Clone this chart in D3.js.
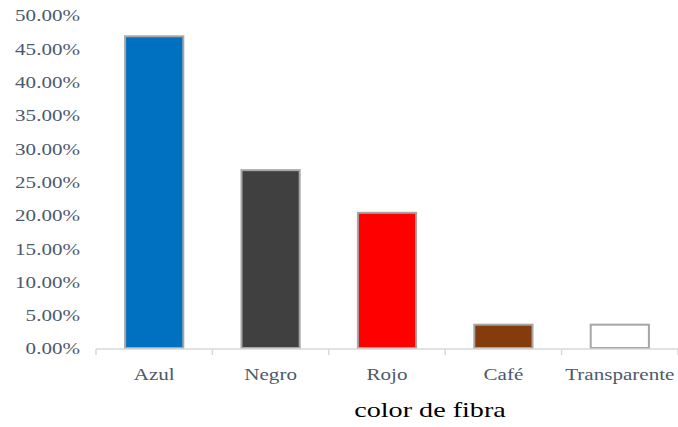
<!DOCTYPE html>
<html>
<head>
<meta charset="utf-8">
<script src="https://cdn.jsdelivr.net/npm/d3@7"></script>
<style>
  body { margin: 0; background: #fff; }
  svg text { font-family: "Liberation Serif", "Times New Roman", serif; }
</style>
</head>
<body>
<svg id="chart"></svg>
<script>
const categories = ["Azul", "Negro", "Rojo", "Café", "Transparente"];
const values = [0.468, 0.267, 0.203, 0.035, 0.035];
const barColors = ["#0070c0", "#404040", "#ff0000", "#843c0c", "#ffffff"];
const yTicks = [0, 0.05, 0.1, 0.15, 0.2, 0.25, 0.3, 0.35, 0.4, 0.45, 0.5];
const xTitle = "color de fibra";

const width = 678, height = 427;
const margin = { top: 15, right: 0, bottom: 79, left: 96 };
const stretch = 1.24; // text in the reference is slightly widened

const svg = d3.select("#chart").attr("width", width).attr("height", height);

const x = d3.scaleBand()
  .domain(categories)
  .range([margin.left, width - margin.right])
  .paddingInner(0.5)
  .paddingOuter(0.25);

const y = d3.scaleLinear()
  .domain([0, 0.5])
  .range([height - margin.bottom, margin.top]);

// bars
svg.append("g")
  .selectAll("rect")
  .data(categories)
  .join("rect")
  .attr("x", d => x(d))
  .attr("y", (d, i) => y(values[i]))
  .attr("width", x.bandwidth())
  .attr("height", (d, i) => y(0) - y(values[i]))
  .attr("fill", (d, i) => barColors[i])
  .attr("stroke", "#a6a6a6")
  .attr("stroke-width", 2);

// y axis labels (no line)
const yAxis = svg.append("g")
  .attr("transform", `translate(${margin.left - 16},0)`)
  .call(d3.axisLeft(y).tickValues(yTicks).tickSize(0).tickFormat(d3.format(".2%")));
yAxis.select(".domain").remove();
yAxis.selectAll("text")
  .attr("font-family", null)
  .attr("font-size", 17)
  .attr("fill", "#4d5a6c")
  .attr("x", 0)
  .attr("dy", "0.35em")
  .attr("transform", `scale(${stretch},1)`);

// x axis: baseline plus tick marks at band boundaries
const x0 = margin.left, x1 = width - margin.right;
const base = y(0);
svg.append("line")
  .attr("x1", x0).attr("x2", x1)
  .attr("y1", base + 1).attr("y2", base + 1)
  .attr("stroke", "#d9d9d9").attr("stroke-width", 1.5);
const step = x.step();
const bounds = d3.range(categories.length + 1).map(i => x0 + i * step);
svg.append("g")
  .selectAll("line")
  .data(bounds)
  .join("line")
  .attr("x1", d => d).attr("x2", d => d)
  .attr("y1", base + 1).attr("y2", base + 7)
  .attr("stroke", "#d9d9d9").attr("stroke-width", 1.5);

svg.append("g")
  .selectAll("text")
  .data(categories)
  .join("text")
  .attr("transform", d => `translate(${x(d) + x.bandwidth() / 2},${base + 32}) scale(${stretch},1)`)
  .attr("text-anchor", "middle")
  .attr("font-size", 17)
  .attr("fill", "#4d5a6c")
  .text(d => d);

svg.append("text")
  .attr("transform", `translate(430,417) scale(1.28,1)`)
  .attr("text-anchor", "middle")
  .attr("font-size", 22)
  .attr("fill", "#000")
  .text(xTitle);
</script>
</body>
</html>
